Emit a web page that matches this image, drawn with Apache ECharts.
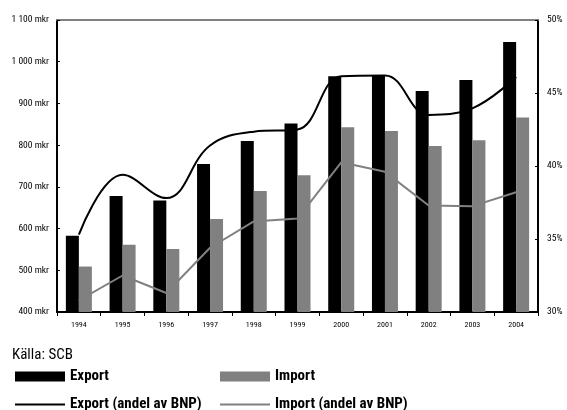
<!DOCTYPE html>
<html><head><meta charset="utf-8">
<script src="https://cdn.jsdelivr.net/npm/echarts@6/dist/echarts.min.js"></script>
<style>html,body{margin:0;padding:0;background:#fff}#c{width:567px;height:410px}</style>
</head><body><div id="c"></div>
<script>
const years = ['1994','1995','1996','1997','1998','1999','2000','2001','2002','2003','2004'];
const exportMkr = [583, 678, 667, 755, 810, 852, 965, 967, 930, 956, 1047];
const importMkr = [509, 561, 551, 623, 690, 728, 843, 834, 798, 812, 866];
const exportShare = [35.3, 39.4, 37.8, 41.4, 42.35, 42.5, 46.15, 46.2, 43.5, 43.95, 46.1];
const importShare = [30.8, 32.5, 31.3, 34.4, 36.2, 36.4, 40.25, 39.6, 37.3, 37.25, 38.2];
const leftTickValues = [400, 500, 600, 700, 800, 900, 1000, 1100];
const leftTickLabels = ['400 mkr','500 mkr','600 mkr','700 mkr','800 mkr','900 mkr','1 000 mkr','1 100 mkr'];
const rightTickValues = [30, 35, 40, 45, 50];
const rightTickLabels = ['30%','35%','40%','45%','50%'];

const FONT = '"Roboto Condensed", "Open Sans Condensed", sans-serif';
const chart = echarts.init(document.getElementById('c'), null, {renderer: 'canvas'});
const legendText = {fontFamily: FONT, fontWeight: 'bold', fontSize: 15, color: '#000'};
const legendBase = {itemWidth: 50, itemGap: 0, padding: 0, textStyle: legendText, icon: 'rect'};
chart.setOption({
  animation: false,
  textStyle: {fontFamily: FONT},
  grid: {left: 57, right: 29, top: 20, bottom: 98},
  title: {text: 'Källa: SCB', left: 12, top: 348, padding: 0,
    textStyle: {fontFamily: FONT, fontWeight: 'normal', fontSize: 15, color: '#000'}},
  legend: [
    Object.assign({data: ['Export'], left: 15, top: 369, itemHeight: 10}, legendBase),
    Object.assign({data: ['Import'], left: 220, top: 369, itemHeight: 10}, legendBase),
    Object.assign({data: ['Export (andel av BNP)'], left: 15, top: 397, itemHeight: 2}, legendBase),
    Object.assign({data: ['Import (andel av BNP)'], left: 220, top: 397, itemHeight: 2}, legendBase)
  ],
  xAxis: [
    {type: 'category', data: years, position: 'bottom',
     axisLine: {lineStyle: {color: '#000', width: 2}},
     axisTick: {show: true, length: 4, lineStyle: {color: '#000', width: 1}},
     axisLabel: {fontFamily: FONT, fontSize: 8, color: '#000', margin: 9}},
    {type: 'category', data: years, position: 'top',
     axisLine: {lineStyle: {color: '#808080', width: 2}},
     axisTick: {show: false}, axisLabel: {show: false}}
  ],
  yAxis: [
    {type: 'value', min: 400, max: 1100, interval: 100, position: 'left',
     axisLine: {show: true, lineStyle: {color: '#000', width: 2}},
     axisTick: {show: true, inside: true, length: 3, lineStyle: {color: '#000'}},
     splitLine: {show: false},
     axisLabel: {fontFamily: FONT, fontSize: 9.5, color: '#000', margin: 8,
       formatter: v => leftTickLabels[leftTickValues.indexOf(v)] || ''}},
    {type: 'value', min: 30, max: 50, interval: 5, position: 'right',
     axisLine: {show: true, lineStyle: {color: '#000', width: 2}},
     axisTick: {show: true, inside: true, length: 3, lineStyle: {color: '#000'}},
     splitLine: {show: false},
     axisLabel: {fontFamily: FONT, fontSize: 9.5, color: '#000', margin: 9,
       formatter: v => rightTickLabels[rightTickValues.indexOf(v)] || ''}}
  ],
  series: [
    {name: 'Export', type: 'bar', data: exportMkr, barWidth: 13, barGap: '0%', itemStyle: {color: '#000'}},
    {name: 'Import', type: 'bar', data: importMkr, barWidth: 13, barGap: '0%', itemStyle: {color: '#808080'}},
    {name: 'Export (andel av BNP)', type: 'line', yAxisIndex: 1, data: exportShare, smooth: 0.4,
     symbol: 'none', lineStyle: {color: '#000', width: 2}, itemStyle: {color: '#000'}, z: 5},
    {name: 'Import (andel av BNP)', type: 'line', yAxisIndex: 1, data: importShare,
     symbol: 'none', lineStyle: {color: '#808080', width: 2}, itemStyle: {color: '#808080'}, z: 5}
  ]
});
</script></body></html>
